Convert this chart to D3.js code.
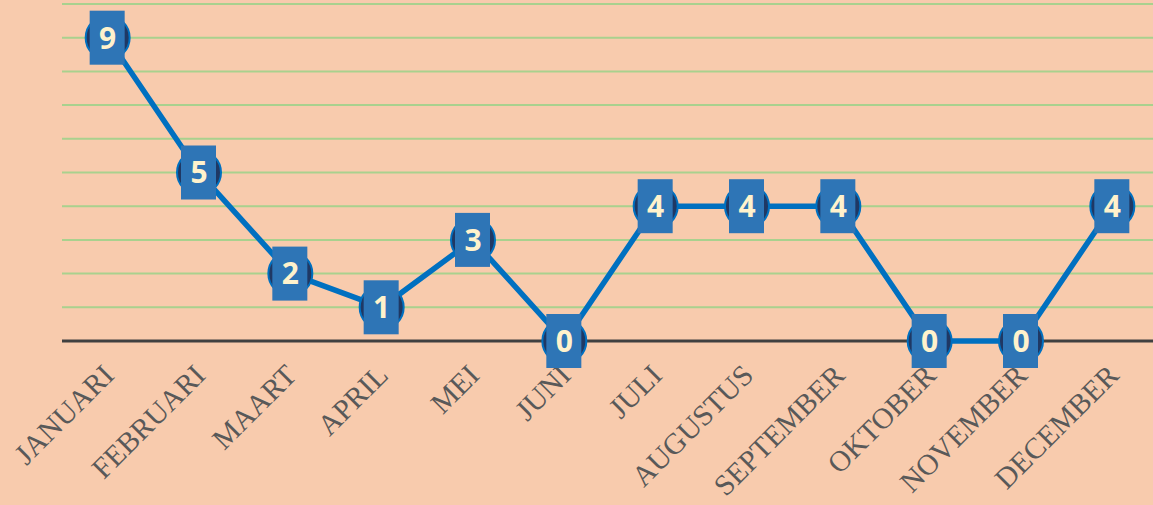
<!DOCTYPE html>
<html>
<head>
<meta charset="utf-8">
<script src="https://cdn.jsdelivr.net/npm/d3@7"></script>
<style>
  body { margin:0; background:#f8cbad; }
  svg { display:block; }
</style>
</head>
<body>
<svg id="chart"></svg>
<script>
var months = ["JANUARI","FEBRUARI","MAART","APRIL","MEI","JUNI","JULI","AUGUSTUS","SEPTEMBER","OKTOBER","NOVEMBER","DECEMBER"]
var counts = [9,5,2,1,3,0,4,4,4,0,0,4]
var gridValues = [1,2,3,4,5,6,7,8,9,10]

var screen = {width:1153, height:505}
var margins = {top:4, left:62, right:-5, bottom:164}
var graph = {
    width:screen.width-margins.left-margins.right,
    height:screen.height-margins.top-margins.bottom
}

var svg = d3.select("#chart")
    .attr("width",screen.width)
    .attr("height",screen.height)

svg.append("rect")
    .attr("width",screen.width)
    .attr("height",screen.height)
    .attr("fill","#f8cbad")

var xScale = d3.scaleBand()
    .domain(months)
    .range([0,graph.width])

var yScale = d3.scaleLinear()
    .domain([0,10])
    .range([graph.height,0])

var g = svg.append("g")
    .attr("transform","translate("+margins.left+","+margins.top+")")

// green gridlines
g.selectAll(".grid")
    .data(gridValues)
    .enter()
    .append("line")
    .attr("x1",0)
    .attr("x2",screen.width)
    .attr("y1",function(d){ return yScale(d); })
    .attr("y2",function(d){ return yScale(d); })
    .attr("stroke","#a9d18e")
    .attr("stroke-width",2)

// axis line + labels
var xAxis = d3.axisBottom(xScale).tickSize(0).tickPadding(0)
var ax = g.append("g")
    .attr("transform","translate(0,"+yScale(0)+")")
    .call(xAxis)
ax.select(".domain").attr("stroke","#404040").attr("stroke-width",3)
    .attr("d","M0,0H"+screen.width)
ax.selectAll(".tick text")
    .attr("font-family","'Liberation Serif', serif")
    .attr("font-size",29.5)
    .attr("fill","#595959")
    .attr("text-anchor","end")
    .attr("dy",0)
    .attr("transform","translate(8,36) rotate(-45)")

var xc = function(d,i){ return xScale(months[i])+xScale.bandwidth()/2; }

var line = d3.line()
    .x(xc)
    .y(function(d){ return yScale(d); })

g.append("path")
    .datum(counts)
    .attr("d",line)
    .attr("fill","none")
    .attr("stroke","#0070c0")
    .attr("stroke-width",5.5)

var pts = g.selectAll(".pt")
    .data(counts)
    .enter()
    .append("g")
    .attr("transform",function(d,i){ return "translate("+xc(d,i)+","+yScale(d)+")"; })

pts.append("circle")
    .attr("r",22)
    .attr("fill","#1f3864")
    .attr("stroke","#0070c0")
    .attr("stroke-width",2)

pts.append("rect")
    .attr("x",-18)
    .attr("y",-27)
    .attr("width",35)
    .attr("height",54)
    .attr("fill","#2e75b6")

pts.append("text")
    .text(function(d){ return d; })
    .attr("text-anchor","middle")
    .attr("dy","0.36em")
    .attr("font-family","'Open Sans', sans-serif")
    .attr("font-weight","bold")
    .attr("font-size",30)
    .attr("fill","#fff2cc")
</script>
</body>
</html>
